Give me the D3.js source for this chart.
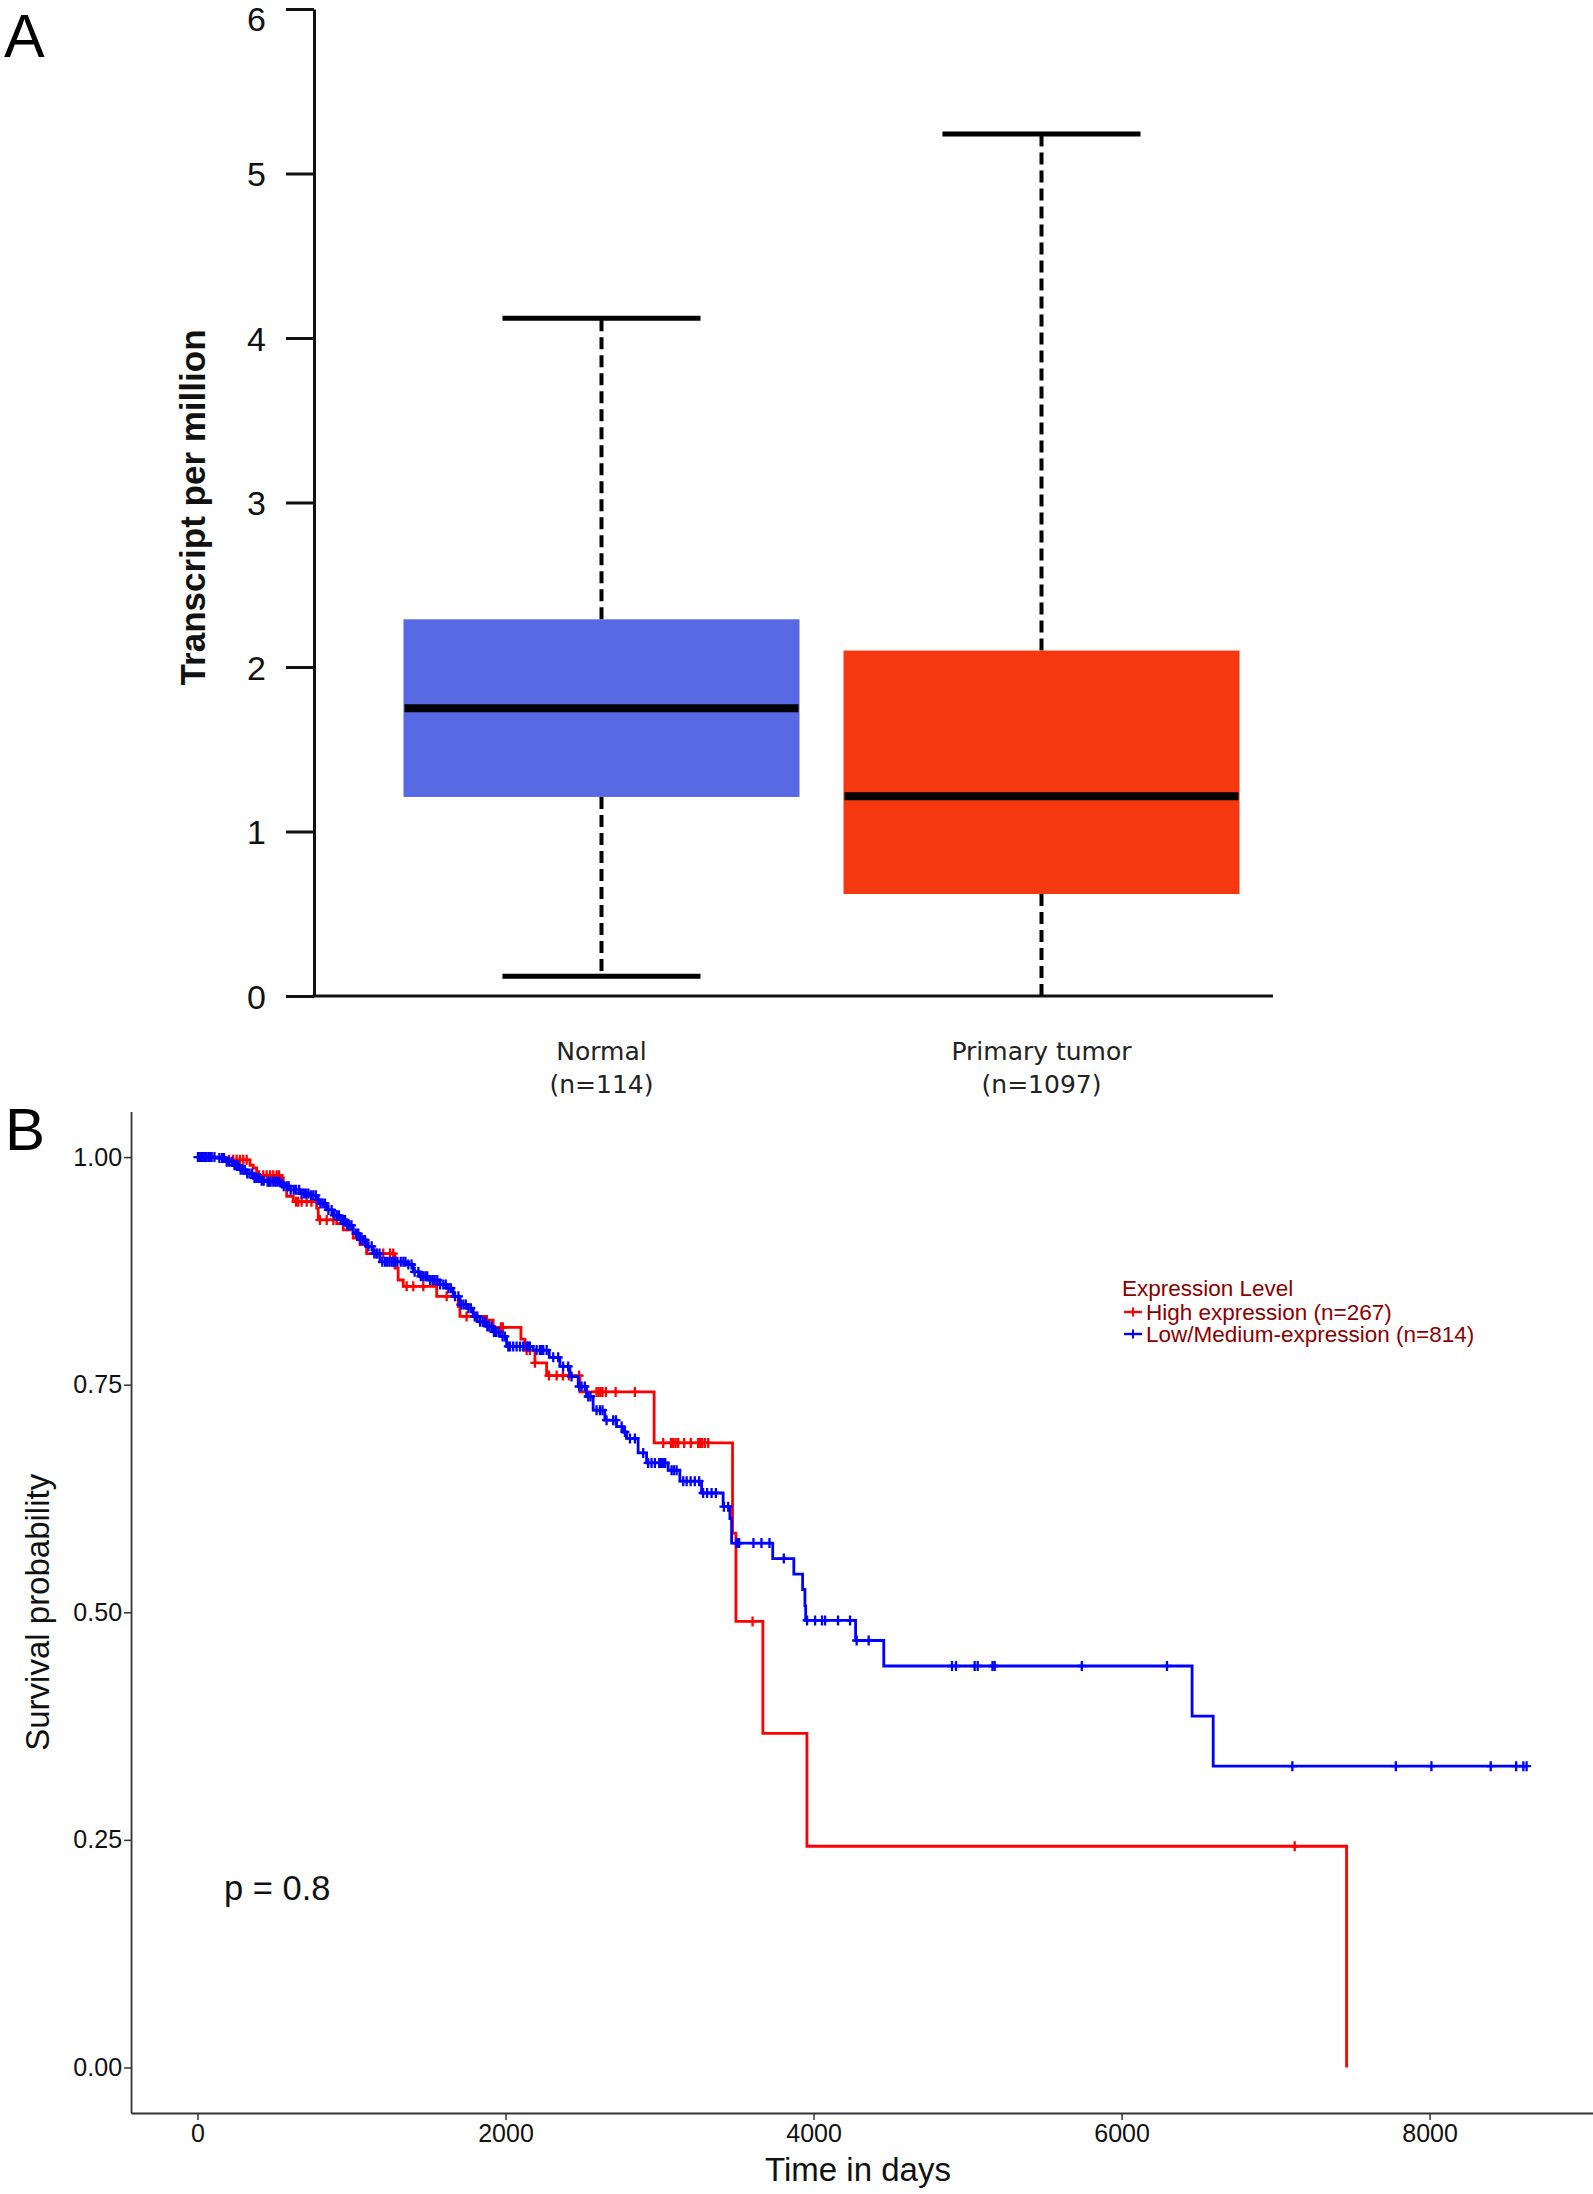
<!DOCTYPE html>
<html lang="en">
<head>
<meta charset="UTF-8">
<title>Expression and survival</title>
<script src="https://cdnjs.cloudflare.com/ajax/libs/d3/7.8.5/d3.min.js"></script>
<style>
  body { margin: 0; background: #fff; }
  svg { display: block; }
</style>
</head>
<body>
<div id="chart"></div>
<script>
// ---- panel A: box summaries (transcripts per million) ----
var groups = ["Normal", "Primary tumor"];
var groupN = ["(n=114)", "(n=1097)"];
var boxMin = [0.12, 0];
var boxQ1 = [1.21, 0.62];
var boxMedian = [1.75, 1.215];
var boxQ3 = [2.29, 2.10];
var boxMax = [4.12, 5.24];
var boxColors = ["#5769e3", "#f5380f"];
var tpmTicks = [0, 1, 2, 3, 4, 5, 6];

// ---- panel B: Kaplan-Meier steps ----
var highTimes = [178, 341, 362, 384, 547, 557, 579, 622, 774, 784, 904, 946, 1011, 1055, 1098,
    1282, 1303, 1336, 1553, 1693, 1704, 1877, 1920, 2100, 2126, 2191, 2267, 2483, 2965,
    3474, 3496, 3671, 3957, 7461];
var highSurv = [0.997, 0.991, 0.988, 0.980, 0.977, 0.968, 0.957, 0.951, 0.944, 0.931, 0.927, 0.920, 0.911, 0.904, 0.894,
    0.878, 0.865, 0.858, 0.847, 0.836, 0.825, 0.821, 0.813, 0.800, 0.788, 0.774, 0.760, 0.742, 0.686,
    0.587, 0.490, 0.367, 0.243, 0];
var highCensor = [205, 232, 254, 276, 297, 319, 400, 427, 449, 471, 492, 514, 530, 640, 654, 676, 709, 740,
    795, 839, 882, 1163, 1206, 1250, 1271, 1358, 1401, 1466, 1618, 1747, 1812, 1970, 1983, 2137, 2158, 2191,
    2282, 2332, 2373, 2412, 2478, 2591, 2604, 2617, 2630, 2652, 2715, 2840, 3024, 3074, 3089,
    3104, 3121, 3160, 3203, 3251, 3262, 3277, 3294, 3316, 3604, 7124];

var lowTimes = [125, 190, 232, 276, 319, 362, 406, 449, 536, 557, 600, 665, 730, 774, 795, 839, 882,
    925, 969, 1011, 1055, 1098, 1141, 1185, 1358, 1401, 1444, 1509, 1574, 1618, 1660, 1704, 1748,
    1790, 1834, 1877, 1920, 1964, 2007, 2180, 2284, 2353, 2418, 2472, 2526, 2569, 2645, 2721, 2764,
    2786, 2861, 2916, 3056, 3132, 3273, 3413, 3457, 3468, 3735, 3872, 3929, 3944, 3949, 4273, 4456,
    6458, 6595];
var lowSurv = [0.999, 0.995, 0.991, 0.986, 0.982, 0.977, 0.974, 0.973, 0.971, 0.968, 0.964, 0.960, 0.958, 0.953, 0.949, 0.942, 0.936,
    0.931, 0.925, 0.916, 0.909, 0.902, 0.894, 0.885, 0.882, 0.874, 0.869, 0.865, 0.860, 0.856, 0.847, 0.838, 0.834,
    0.825, 0.819, 0.814, 0.808, 0.803, 0.792, 0.788, 0.780, 0.770, 0.759, 0.748, 0.737, 0.722, 0.711, 0.704, 0.698,
    0.691, 0.675, 0.664, 0.656, 0.644, 0.631, 0.616, 0.603, 0.576, 0.559, 0.542, 0.525, 0.507, 0.491, 0.469, 0.441,
    0.386, 0.331];
var lowEnd = 8630;
var lowCensor = [3, 16, 28, 42, 55, 70, 80, 92, 110, 142, 160, 172, 190, 206, 225, 240, 252, 265, 280, 293,
    308, 323, 338, 355, 370, 382, 395, 405, 417, 430, 455, 465, 475, 492, 505, 518, 532, 547, 560,
    579, 592, 605, 625, 640, 660, 676, 692, 705, 720, 737, 752, 768, 784, 798, 813, 828, 850, 871,
    888, 904, 918, 930, 945, 958, 972, 986, 1000, 1030, 1044, 1058, 1073, 1088, 1110, 1131, 1148,
    1164, 1182, 1200, 1218, 1232, 1246, 1260, 1272, 1285, 1298, 1320, 1337, 1350, 1369, 1390, 1410,
    1434, 1450, 1466, 1480, 1492, 1510, 1527, 1540, 1557, 1575, 1596, 1612, 1629, 1645, 1672, 1694,
    1710, 1726, 1742, 1759, 1775, 1800, 1817, 1835, 1852, 1868, 1882, 1895, 1910, 1925, 1939, 1955,
    1981, 1996, 2018, 2029, 2050, 2072,
    2094, 2115, 2137, 2147, 2158, 2202, 2223, 2234, 2245, 2267, 2310, 2342, 2374, 2407, 2429, 2478,
    2494, 2515, 2537, 2552, 2591, 2613, 2630, 2656, 2699, 2717, 2754, 2775, 2808, 2840, 2894, 2926,
    2948, 2970, 2998, 3007, 3015, 3024, 3037, 3078, 3093, 3111, 3154, 3176, 3202, 3229, 3257, 3283,
    3309, 3338, 3366, 3418, 3446, 3500, 3509, 3517, 3610, 3662, 3714, 3807, 3958, 4010, 4055, 4075,
    4159, 4237, 4280, 4358, 4899, 4925, 5046, 5066, 5162, 5176, 5742, 6295, 7109, 7781, 8012, 8397,
    8562, 8609, 8630];

var survTicks = [0, 0.25, 0.5, 0.75, 1];
var dayTicks = [0, 2000, 4000, 6000, 8000];
var legendLabels = ["High expression (n=267)", "Low/Medium-expression (n=814)"];
var curveColors = ["#ff0000", "#0000ff"];

var W = 1593, H = 2194;
var svg = d3.select("#chart").append("svg")
    .attr("width", W)
    .attr("height", H);

// ================= panel A =================
var yA = d3.scaleLinear().domain([0, 6]).range([996, 9]);
var xA = d3.scaleBand().domain(groups).range([381.5, 1261.5])
    .paddingInner(0.1).paddingOuter(0.05);

svg.append("text")
    .attr("x", 4).attr("y", 57)
    .style("font-family", "Liberation Sans, Arial, sans-serif")
    .style("font-size", "61px")
    .text("A");

var axA = svg.append("g")
    .attr("transform", "translate(314,0)")
    .call(d3.axisLeft(yA).tickValues(tpmTicks).tickFormat(d3.format("d"))
        .tickSize(28).tickSizeOuter(0).tickPadding(20));
axA.select(".domain").attr("stroke", "#111").attr("stroke-width", 3);
axA.selectAll(".tick line").attr("stroke", "#111").attr("stroke-width", 3);
axA.selectAll(".tick text")
    .style("font-family", "Liberation Sans, Arial, sans-serif")
    .style("font-size", "34px")
    .attr("fill", "#111")
    // the top label is nudged down so it stays inside the picture
    .attr("dy", function (d) { return d === 6 ? "0.64em" : "0.36em"; });

svg.append("line")
    .attr("x1", 312.5).attr("x2", 1273)
    .attr("y1", yA(0)).attr("y2", yA(0))
    .attr("stroke", "#111").attr("stroke-width", 3);

svg.append("text")
    .attr("transform", "translate(205," + (yA(2.97)) + ") rotate(-90)")
    .attr("text-anchor", "middle")
    .style("font-family", "Liberation Sans, Arial, sans-serif")
    .style("font-size", "35px")
    .style("font-weight", "bold")
    .attr("fill", "#111")
    .text("Transcript per million");

var boxes = svg.append("g").selectAll("g")
    .data(groups)
    .enter().append("g");

boxes.each(function (name, i) {
    var g = d3.select(this);
    var x0 = xA(name), bw = xA.bandwidth(), cx = x0 + bw / 2, capW = bw / 4;
    // whiskers
    g.append("line")
        .attr("x1", cx).attr("x2", cx)
        .attr("y1", yA(boxQ3[i])).attr("y2", yA(boxMax[i]))
        .attr("stroke", "#000").attr("stroke-width", 4).attr("stroke-dasharray", "12,6");
    g.append("line")
        .attr("x1", cx).attr("x2", cx)
        .attr("y1", yA(boxQ1[i])).attr("y2", yA(boxMin[i]))
        .attr("stroke", "#000").attr("stroke-width", 4).attr("stroke-dasharray", "12,6");
    [boxMax[i], boxMin[i]].forEach(function (v) {
        if (v === 0) return; // sits on the axis line
        g.append("line")
            .attr("x1", cx - capW).attr("x2", cx + capW)
            .attr("y1", yA(v)).attr("y2", yA(v))
            .attr("stroke", "#000").attr("stroke-width", 5);
    });
    g.append("rect")
        .attr("x", x0).attr("width", bw)
        .attr("y", yA(boxQ3[i]))
        .attr("height", yA(boxQ1[i]) - yA(boxQ3[i]))
        .attr("fill", boxColors[i]);
    g.append("line")
        .attr("x1", x0 + 1).attr("x2", x0 + bw - 1)
        .attr("y1", yA(boxMedian[i])).attr("y2", yA(boxMedian[i]))
        .attr("stroke", "#000").attr("stroke-width", 8);
    g.append("text")
        .attr("x", cx).attr("y", 1060)
        .attr("text-anchor", "middle")
        .style("font-family", "DejaVu Sans, sans-serif")
        .style("font-size", "25px")
        .attr("fill", "#222")
        .text(name);
    g.append("text")
        .attr("x", cx).attr("y", 1093)
        .attr("text-anchor", "middle")
        .style("font-family", "DejaVu Sans, sans-serif")
        .style("font-size", "25px")
        .attr("fill", "#222")
        .text(groupN[i]);
});

// ================= panel B =================
var maxDay = lowEnd;
var xB = d3.scaleLinear()
    .domain([-0.05 * maxDay, 1.05 * maxDay])
    .range([197.5 - 0.05 * maxDay * 0.15401, 197.5 + 1.05 * maxDay * 0.15401]);
var yB = d3.scaleLinear().domain([-0.05, 1.05]).range([2113, 2113 - 1.1 * 910.4]);

svg.append("text")
    .attr("x", 5).attr("y", 1150)
    .style("font-family", "Liberation Sans, Arial, sans-serif")
    .style("font-size", "60px")
    .text("B");

var axBy = svg.append("g")
    .attr("transform", "translate(" + xB.range()[0] + ",0)")
    .call(d3.axisLeft(yB).tickValues(survTicks).tickFormat(d3.format(".2f"))
        .tickSize(7).tickSizeOuter(0).tickPadding(2));
var axBx = svg.append("g")
    .attr("transform", "translate(0," + yB.range()[0] + ")")
    .call(d3.axisBottom(xB).tickValues(dayTicks).tickFormat(d3.format("d"))
        .tickSize(7).tickSizeOuter(0).tickPadding(4));
[axBy, axBx].forEach(function (ax) {
    ax.select(".domain").attr("stroke", "#333").attr("stroke-width", 1.8);
    ax.selectAll(".tick line").attr("stroke", "#333").attr("stroke-width", 1.5);
    ax.selectAll(".tick text")
        .style("font-family", "Liberation Sans, Arial, sans-serif")
        .style("font-size", "25px")
        .attr("fill", "#111");
});

svg.append("text")
    .attr("transform", "translate(49," + yB(0.5) + ") rotate(-90)")
    .attr("text-anchor", "middle")
    .style("font-family", "Liberation Sans, Arial, sans-serif")
    .style("font-size", "33px")
    .attr("fill", "#111")
    .text("Survival probability");

svg.append("text")
    .attr("x", 858).attr("y", 2181)
    .attr("text-anchor", "middle")
    .style("font-family", "Liberation Sans, Arial, sans-serif")
    .style("font-size", "33px")
    .attr("fill", "#111")
    .text("Time in days");

svg.append("text")
    .attr("x", 224).attr("y", 1900)
    .style("font-family", "Liberation Sans, Arial, sans-serif")
    .style("font-size", "34.5px")
    .attr("fill", "#111")
    .text("p = 0.8");

function survAt(times, surv, t) {
    var s = 1;
    for (var i = 0; i < times.length; i++) {
        if (times[i] <= t) s = surv[i];
    }
    return s;
}

var stepLine = d3.line()
    .x(function (d) { return xB(d[0]); })
    .y(function (d) { return yB(d[1]); })
    .curve(d3.curveStepAfter);

var curves = [
    { times: highTimes, surv: highSurv, censor: highCensor, end: highTimes[highTimes.length - 1], color: curveColors[0] },
    { times: lowTimes, surv: lowSurv, censor: lowCensor, end: lowEnd, color: curveColors[1] }
];

var plus = "M-4.5,0H4.5M0,-5V5";

curves.forEach(function (c) {
    var pts = [[0, 1]].concat(c.times.map(function (t, i) { return [t, c.surv[i]]; }));
    if (c.end > c.times[c.times.length - 1]) pts.push([c.end, c.surv[c.surv.length - 1]]);
    var g = svg.append("g");
    g.append("path")
        .datum(pts)
        .attr("d", stepLine)
        .attr("fill", "none")
        .attr("stroke", c.color)
        .attr("stroke-width", 2.8);
    g.selectAll("path.cens")
        .data(c.censor)
        .enter().append("path")
        .attr("class", "cens")
        .attr("d", plus)
        .attr("transform", function (t) {
            return "translate(" + xB(t) + "," + yB(survAt(c.times, c.surv, t)) + ")";
        })
        .attr("stroke", c.color)
        .attr("stroke-width", 2.3);
});

// legend
var leg = svg.append("g").attr("transform", "translate(1122,0)");
leg.append("text")
    .attr("x", 0).attr("y", 1296)
    .style("font-family", "Liberation Sans, Arial, sans-serif")
    .style("font-size", "22.5px")
    .attr("fill", "#8b0000")
    .text("Expression Level");
legendLabels.forEach(function (lab, i) {
    var yy = 1312 + i * 22;
    leg.append("line")
        .attr("x1", 2).attr("x2", 20).attr("y1", yy).attr("y2", yy)
        .attr("stroke", curveColors[i]).attr("stroke-width", 2.4);
    leg.append("line")
        .attr("x1", 11).attr("x2", 11).attr("y1", yy - 4.5).attr("y2", yy + 4.5)
        .attr("stroke", curveColors[i]).attr("stroke-width", 2);
    leg.append("text")
        .attr("x", 24).attr("y", yy + 8)
        .style("font-family", "Liberation Sans, Arial, sans-serif")
        .style("font-size", "22.5px")
        .attr("fill", "#8b0000")
        .text(lab);
});
</script>
</body>
</html>
